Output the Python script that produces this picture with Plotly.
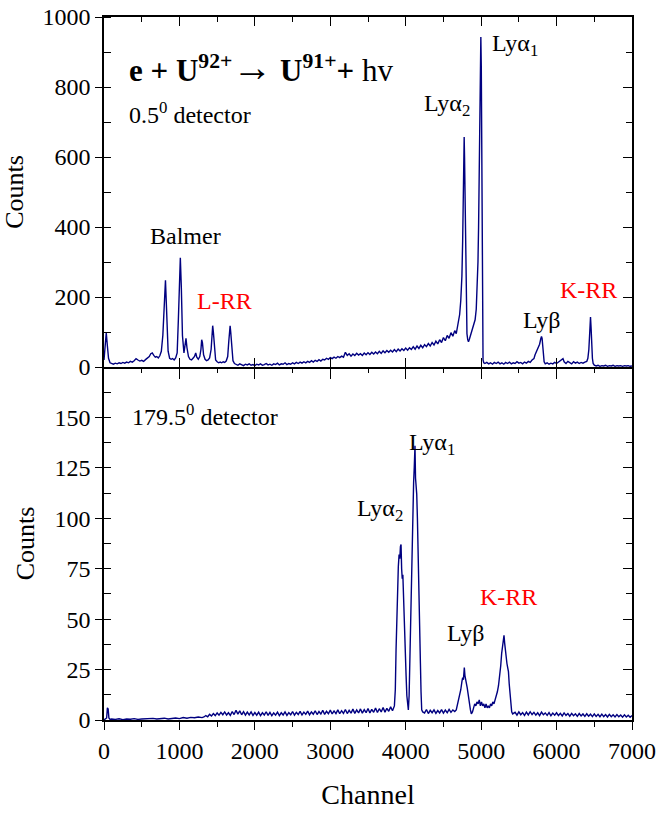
import plotly.graph_objects as go

# ---------------- data ----------------
# 0.5 deg detector spectrum: (channel, counts)
top_spectrum = [
    (0, 20), (15, 70), (30, 98), (45, 60), (60, 25), (80, 12), (100, 10), (125, 8), (150, 11), (175, 9),
    (200, 12), (225, 10), (250, 13), (275, 11), (300, 14), (325, 12), (350, 16), (375, 14), (400, 18),
    (425, 24), (450, 20), (475, 17), (500, 19), (525, 16), (550, 21), (575, 25), (600, 30), (620, 38),
    (640, 40), (660, 33), (680, 28), (700, 30), (720, 26), (740, 32), (760, 45), (780, 90), (795, 180),
    (805, 235), (815, 248), (825, 190), (835, 110), (850, 45), (870, 25), (890, 22), (910, 24), (930, 20),
    (950, 26), (970, 40), (985, 130), (1000, 270), (1012, 312), (1025, 230), (1040, 90), (1060, 40),
    (1075, 60), (1087, 82), (1100, 55), (1120, 30), (1140, 22), (1160, 20), (1180, 25), (1200, 30),
    (1216, 40), (1230, 28), (1250, 22), (1270, 30), (1285, 50), (1295, 78), (1305, 70), (1320, 35),
    (1340, 22), (1360, 18), (1380, 20), (1400, 26), (1420, 50), (1432, 95), (1441, 118), (1450, 100),
    (1465, 45), (1480, 20), (1500, 15), (1520, 12), (1540, 14), (1560, 12), (1580, 15), (1600, 13),
    (1620, 17), (1640, 30), (1655, 75), (1665, 108), (1672, 118), (1680, 100), (1695, 50), (1710, 18),
    (1730, 10), (1750, 8), (1775, 5), (1800, 9), (1825, 6), (1850, 4), (1875, 8), (1900, 6), (1925, 9),
    (1950, 5), (1975, 7), (2000, 4), (2025, 8), (2050, 6), (2075, 9), (2100, 5), (2125, 7), (2150, 10),
    (2175, 6), (2200, 8), (2225, 5), (2250, 9), (2275, 7), (2300, 11), (2325, 6), (2350, 9), (2375, 8),
    (2400, 12), (2425, 7), (2450, 10), (2475, 8), (2500, 12), (2525, 9), (2550, 13), (2575, 10),
    (2600, 14), (2625, 11), (2650, 15), (2675, 12), (2700, 16), (2725, 13), (2750, 18), (2775, 14),
    (2800, 19), (2825, 16), (2850, 21), (2875, 17), (2900, 22), (2925, 20), (2950, 25), (2975, 22),
    (3000, 27), (3025, 24), (3050, 28), (3075, 25), (3100, 30), (3125, 27), (3150, 31), (3175, 28),
    (3200, 42), (3225, 33), (3250, 38), (3275, 31), (3300, 37), (3325, 33), (3350, 39), (3375, 34),
    (3400, 38), (3425, 33), (3450, 40), (3475, 35), (3500, 41), (3525, 36), (3550, 42), (3575, 37),
    (3600, 43), (3625, 38), (3650, 45), (3675, 39), (3700, 46), (3725, 41), (3750, 47), (3775, 42),
    (3800, 48), (3825, 43), (3850, 50), (3875, 44), (3900, 51), (3925, 46), (3950, 52), (3975, 47),
    (4000, 54), (4025, 48), (4050, 55), (4075, 50), (4100, 58), (4125, 51), (4150, 60), (4175, 53),
    (4200, 62), (4225, 55), (4250, 64), (4275, 58), (4300, 67), (4325, 60), (4350, 70), (4375, 63),
    (4400, 74), (4425, 66), (4450, 78), (4475, 70), (4500, 84), (4525, 75), (4550, 90), (4575, 82),
    (4600, 98), (4625, 88), (4650, 104), (4670, 95), (4690, 115), (4700, 125), (4715, 150), (4730, 190),
    (4745, 260), (4755, 360), (4763, 500), (4770, 610), (4775, 657), (4780, 600), (4787, 450),
    (4795, 260), (4803, 140), (4812, 95), (4822, 78), (4832, 72), (4845, 80), (4860, 92), (4875, 100),
    (4890, 112), (4905, 122), (4920, 135), (4935, 165), (4948, 220), (4958, 300), (4966, 400),
    (4974, 560), (4982, 750), (4990, 900), (4996, 943), (5002, 860), (5008, 600), (5014, 300),
    (5019, 80), (5025, 20), (5035, 12), (5050, 10), (5075, 13), (5100, 9), (5125, 12), (5150, 8),
    (5175, 13), (5200, 10), (5225, 14), (5250, 9), (5275, 12), (5300, 8), (5325, 13), (5350, 10),
    (5375, 14), (5400, 9), (5425, 12), (5450, 10), (5475, 15), (5500, 11), (5525, 13), (5550, 9),
    (5575, 14), (5600, 11), (5625, 16), (5650, 13), (5675, 20), (5700, 24), (5715, 35), (5730, 42),
    (5745, 48), (5760, 55), (5775, 65), (5790, 80), (5800, 87), (5808, 82), (5816, 60), (5825, 35),
    (5835, 15), (5850, 9), (5875, 12), (5900, 8), (5925, 11), (5950, 9), (5975, 13), (6000, 10),
    (6025, 14), (6050, 18), (6070, 22), (6085, 24), (6100, 15), (6125, 10), (6150, 16), (6175, 12),
    (6200, 9), (6225, 15), (6250, 11), (6275, 14), (6300, 10), (6325, 13), (6350, 11), (6375, 14),
    (6400, 16), (6415, 25), (6428, 50), (6440, 100), (6450, 143), (6458, 110), (6466, 60), (6475, 25),
    (6485, 10), (6500, 5), (6525, 3), (6550, 5), (6575, 2), (6600, 4), (6625, 3), (6650, 5), (6675, 2),
    (6700, 4), (6725, 3), (6750, 5), (6775, 2), (6800, 4), (6825, 3), (6850, 4), (6875, 2), (6900, 4),
    (6925, 3), (6950, 4), (6975, 2), (7000, 3),
]

# 179.5 deg detector spectrum: (channel, counts)
bottom_spectrum = [
    (0, 0), (20, 0.5), (35, 1), (45, 6), (55, 5.5), (65, 1), (80, 0.3), (100, 0.5), (150, 0.3),
    (200, 0.6), (250, 0.2), (300, 0.5), (350, 0.4), (400, 0.7), (450, 0.3), (500, 0.5), (550, 0.6),
    (600, 0.4), (650, 0.8), (700, 0.5), (750, 0.6), (800, 0.9), (850, 0.5), (900, 0.8), (950, 1.0),
    (1000, 0.7), (1050, 1.2), (1100, 0.9), (1150, 1.3), (1200, 1.1), (1250, 1.5), (1300, 1.2),
    (1325, 1.5), (1350, 2.2), (1375, 1.6), (1400, 2.8), (1425, 2.0), (1450, 3.2), (1475, 2.2),
    (1500, 3.5), (1525, 2.4), (1550, 3.8), (1575, 2.6), (1600, 4.0), (1625, 2.5), (1650, 3.6),
    (1675, 2.3), (1700, 4.2), (1725, 2.7), (1750, 4.8), (1775, 2.9), (1800, 4.5), (1825, 2.6),
    (1850, 4.1), (1875, 2.4), (1900, 3.9), (1925, 2.5), (1950, 4.0), (1975, 2.3), (2000, 3.7),
    (2025, 2.4), (2050, 3.9), (2075, 2.2), (2100, 3.6), (2125, 2.5), (2150, 4.1), (2175, 2.3),
    (2200, 3.8), (2225, 2.1), (2250, 3.5), (2275, 2.4), (2300, 3.9), (2325, 2.2), (2350, 3.6),
    (2375, 2.5), (2400, 4.0), (2425, 2.3), (2450, 3.7), (2475, 2.6), (2500, 4.2), (2525, 2.4),
    (2550, 3.8), (2575, 2.7), (2600, 4.3), (2625, 2.5), (2650, 3.9), (2675, 2.8), (2700, 4.4),
    (2725, 2.6), (2750, 4.0), (2775, 2.9), (2800, 4.6), (2825, 2.7), (2850, 4.2), (2875, 3.0),
    (2900, 4.8), (2925, 2.8), (2950, 4.3), (2975, 3.1), (3000, 4.9), (3025, 3.0), (3050, 4.5),
    (3075, 3.2), (3100, 5.0), (3125, 3.1), (3150, 4.6), (3175, 3.3), (3200, 5.2), (3225, 3.2),
    (3250, 4.8), (3275, 3.4), (3300, 5.4), (3325, 3.3), (3350, 5.0), (3375, 3.5), (3400, 5.5),
    (3425, 3.4), (3450, 5.1), (3475, 3.6), (3500, 5.7), (3525, 3.5), (3550, 5.3), (3575, 3.8),
    (3600, 5.9), (3625, 3.7), (3650, 5.6), (3675, 4.0), (3700, 6.2), (3725, 3.9), (3750, 5.8),
    (3775, 4.3), (3800, 6.5), (3825, 4.6), (3850, 7.0), (3862, 15), (3872, 35), (3882, 55), (3892, 70),
    (3902, 76), (3912, 82), (3922, 80), (3930, 86), (3938, 87), (3946, 75), (3954, 70), (3962, 72),
    (3970, 60), (3978, 56), (3986, 45), (3995, 35), (4005, 22), (4015, 12), (4025, 7), (4035, 5),
    (4045, 12), (4055, 30), (4065, 50), (4075, 75), (4085, 95), (4095, 105), (4105, 118), (4113, 125),
    (4123, 136), (4130, 120), (4138, 116), (4146, 112), (4155, 100), (4163, 88), (4170, 80), (4178, 62),
    (4186, 45), (4195, 28), (4203, 14), (4212, 5), (4225, 4), (4250, 3.5), (4275, 5.2), (4300, 3.2),
    (4325, 4.8), (4350, 3.6), (4375, 5.0), (4400, 3.3), (4425, 4.7), (4450, 3.5), (4475, 5.1),
    (4500, 3.4), (4525, 4.9), (4550, 3.6), (4575, 5.3), (4600, 3.8), (4625, 5.0), (4650, 4.2),
    (4670, 5), (4690, 8), (4710, 12), (4730, 15), (4745, 19), (4755, 21), (4765, 20), (4777, 26),
    (4785, 22), (4795, 19), (4805, 18), (4815, 16), (4825, 13), (4835, 12), (4845, 8), (4858, 5),
    (4870, 3), (4885, 4), (4900, 6), (4915, 8), (4930, 7), (4945, 9), (4960, 8), (4975, 10), (4990, 7),
    (5005, 9), (5020, 7), (5035, 8), (5050, 6), (5065, 8), (5080, 6), (5095, 7), (5110, 6), (5125, 8),
    (5140, 7), (5155, 9), (5170, 8), (5185, 10), (5200, 11), (5215, 14), (5230, 17), (5245, 21),
    (5260, 27), (5272, 33), (5285, 37), (5295, 40), (5303, 42), (5312, 38), (5322, 34), (5332, 31),
    (5342, 28), (5352, 26), (5362, 24), (5372, 18), (5382, 12), (5393, 7), (5405, 4), (5418, 3),
    (5450, 3.8), (5475, 2.4), (5500, 4.0), (5525, 2.6), (5550, 3.7), (5575, 2.3), (5600, 3.9),
    (5625, 2.5), (5650, 4.1), (5675, 2.7), (5700, 3.8), (5725, 2.4), (5750, 3.6), (5775, 2.2),
    (5800, 3.9), (5825, 2.6), (5850, 3.5), (5875, 2.3), (5900, 3.7), (5925, 2.1), (5950, 3.4),
    (5975, 2.4), (6000, 3.6), (6025, 2.2), (6050, 3.3), (6075, 2.0), (6100, 3.5), (6125, 2.3),
    (6150, 3.2), (6175, 1.9), (6200, 3.3), (6225, 2.1), (6250, 3.1), (6275, 1.8), (6300, 3.2),
    (6325, 2.0), (6350, 3.0), (6375, 1.8), (6400, 3.1), (6425, 1.9), (6450, 2.9), (6475, 1.7),
    (6500, 3.0), (6525, 1.8), (6550, 2.8), (6575, 1.6), (6600, 2.9), (6625, 1.7), (6650, 2.7),
    (6675, 1.5), (6700, 2.8), (6725, 1.6), (6750, 2.6), (6775, 1.5), (6800, 2.7), (6825, 1.6),
    (6850, 2.5), (6875, 1.4), (6900, 2.6), (6925, 1.5), (6950, 2.4), (6975, 1.4), (7000, 2.2),
]

x_ticks = [0, 1000, 2000, 3000, 4000, 5000, 6000, 7000]
top_y_ticks = [0, 200, 400, 600, 800, 1000]
bottom_y_ticks = [0, 25, 50, 75, 100, 125, 150]

# labels: (text, channel, counts, colour)
top_labels = [
    ("Balmer", 1074, 373, "black"),
    ("L-RR", 1604, 188, "red"),
    ("Lyα<sub>2</sub>", 4548, 748, "black"),
    ("Lyα<sub>1</sub>", 5449, 919, "black"),
    ("Lyβ", 5807, 133, "black"),
    ("K-RR", 6417, 219, "red"),
]
bottom_labels = [
    ("Lyα<sub>1</sub>", 4349, 137, "black"),
    ("Lyα<sub>2</sub>", 3659, 104, "black"),
    ("Lyβ", 4799, 43, "black"),
    ("K-RR", 5369, 61, "red"),
]

# ---------------- figure ----------------
FONT = "Liberation Serif"
LINE = "#000080"

top_x = [p[0] for p in top_spectrum]
top_y = [p[1] for p in top_spectrum]
bot_x = [p[0] for p in bottom_spectrum]
bot_y = [p[1] for p in bottom_spectrum]

fig = go.Figure()
fig.add_trace(go.Scatter(x=top_x, y=top_y, mode="lines", line=dict(color=LINE, width=1.4),
                         xaxis="x", yaxis="y", showlegend=False, hoverinfo="skip"))
fig.add_trace(go.Scatter(x=bot_x, y=bot_y, mode="lines", line=dict(color=LINE, width=1.4),
                         xaxis="x2", yaxis="y2", showlegend=False, hoverinfo="skip"))
# empty traces to activate overlay (mirror tick) axes
for xa, ya in [("x3", "y"), ("x", "y3"), ("x4", "y2"), ("x2", "y4")]:
    fig.add_trace(go.Scatter(x=[None], y=[None], xaxis=xa, yaxis=ya, showlegend=False,
                             hoverinfo="skip", mode="lines"))

split = 353 / 703
tickfont = dict(family=FONT, size=24, color="black")
base = dict(showgrid=False, zeroline=False, tickcolor="black", tickwidth=1.4,
            tickfont=tickfont, automargin=False)
common = dict(linecolor="black", linewidth=1.5, **base)

fig.update_layout(
    width=661, height=813,
    margin=dict(l=104, r=29, t=17, b=93, autoexpand=False),
    paper_bgcolor="white", plot_bgcolor="white",
    font=dict(family=FONT, color="black"),
    # top panel
    xaxis=dict(domain=[0, 1], anchor="y", range=[0, 7000], tickvals=x_ticks,
               ticks="inside", ticklen=9, showticklabels=False, mirror=True, **common),
    yaxis=dict(domain=[split, 1], anchor="x", range=[0, 1000], tickvals=top_y_ticks,
               ticks="outside", ticklen=7, mirror=True,
               minor=dict(dtick=100, ticks="inside", ticklen=7, tickcolor="black", tickwidth=1.4),
               title=dict(text="Counts", font=dict(family=FONT, size=26), standoff=12), **common),
    xaxis3=dict(overlaying="x", anchor="y", side="top", range=[0, 7000], tickvals=x_ticks,
                ticks="inside", ticklen=9, showticklabels=False, showline=False,
                minor=dict(dtick=500, ticks="inside", ticklen=5, tickcolor="black", tickwidth=1.4),
                **base),
    yaxis3=dict(overlaying="y", anchor="x", side="right", range=[0, 1000], tickvals=top_y_ticks,
                ticks="inside", ticklen=9, showticklabels=False, showline=False,
                minor=dict(dtick=100, ticks="inside", ticklen=6, tickcolor="black", tickwidth=1.4),
                **base),
    # bottom panel
    xaxis2=dict(domain=[0, 1], anchor="y2", range=[0, 7000], tickvals=x_ticks,
                ticks="outside", ticklen=8, mirror=False,
                minor=dict(dtick=500, ticks="outside", ticklen=5, tickcolor="black", tickwidth=1.4),
                title=dict(text="Channel", font=dict(family=FONT, size=28), standoff=22), **common),
    yaxis2=dict(domain=[0, split], anchor="x2", range=[0, 175], tickvals=bottom_y_ticks,
                ticks="outside", ticklen=7, mirror=True,
                minor=dict(dtick=12.5, ticks="inside", ticklen=7, tickcolor="black", tickwidth=1.4),
                title=dict(text="Counts", font=dict(family=FONT, size=26), standoff=12), **common),
    xaxis4=dict(overlaying="x2", anchor="y2", side="top", range=[0, 7000], tickvals=x_ticks,
                ticks="inside", ticklen=12, showticklabels=False, showline=False,
                minor=dict(dtick=500, ticks="inside", ticklen=6, tickcolor="black", tickwidth=1.4),
                **base),
    yaxis4=dict(overlaying="y2", anchor="x2", side="right", range=[0, 175], tickvals=bottom_y_ticks,
                ticks="inside", ticklen=9, showticklabels=False, showline=False,
                minor=dict(dtick=12.5, ticks="inside", ticklen=6, tickcolor="black", tickwidth=1.4),
                **base),
)

annotations = []
for text, cx, cy, col in top_labels:
    annotations.append(dict(text=text, x=cx, y=cy, xref="x", yref="y", showarrow=False,
                            font=dict(family=FONT, size=24, color=col)))
for text, cx, cy, col in bottom_labels:
    annotations.append(dict(text=text, x=cx, y=cy, xref="x2", yref="y2", showarrow=False,
                            font=dict(family=FONT, size=24, color=col)))
annotations.append(dict(
    text="<b>e + U<sup>92+</sup><span style='font-size:40px'>→</span> U<sup>91+</sup>+</b> hv",
    x=305, y=856, xref="x", yref="y", xanchor="left", showarrow=False,
    font=dict(family=FONT, size=31, color="black")))
annotations.append(dict(text="0.5<sup>0</sup> detector", x=305, y=725, xref="x", yref="y",
                        xanchor="left", showarrow=False, font=dict(family=FONT, size=24, color="black")))
annotations.append(dict(text="179.5<sup>0</sup> detector", x=345, y=151, xref="x2", yref="y2",
                        xanchor="left", showarrow=False, font=dict(family=FONT, size=24, color="black")))
fig.update_layout(annotations=annotations)

fig.write_html("out.html", config={"displayModeBar": False},
               post_script="document.body.style.margin='0px';")
